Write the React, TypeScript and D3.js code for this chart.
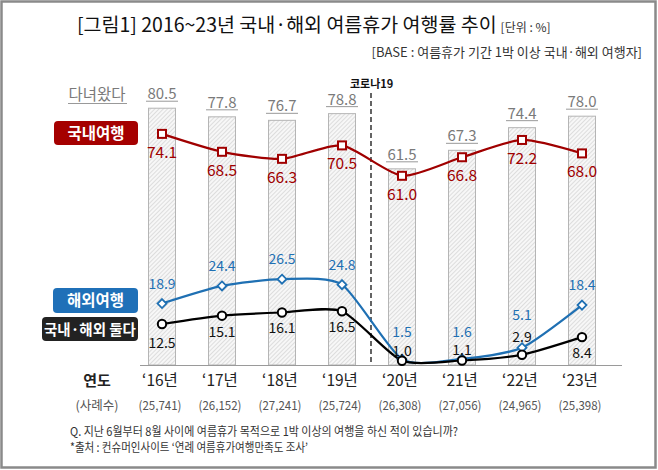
import React from "react";
import * as d3 from "d3";

const years = ["‘16년", "‘17년", "‘18년", "‘19년", "‘20년", "‘21년", "‘22년", "‘23년"];
const samples = ["(25,741)", "(26,152)", "(27,241)", "(25,724)", "(26,308)", "(27,056)", "(24,965)", "(25,398)"];
const total = [80.5, 77.8, 76.7, 78.8, 61.5, 67.3, 74.4, 78.0];
const domestic = [74.1, 68.5, 66.3, 70.5, 61.0, 66.8, 72.2, 68.0];
const overseas = [18.9, 24.4, 26.5, 24.8, 1.5, 1.6, 5.1, 18.4];
const both = [12.5, 15.1, 16.1, 16.5, 1.0, 1.1, 2.9, 8.4];
const bothLabelSide = ["below", "below", "below", "below", "above", "above", "above", "below"];

const W = 658;
const H = 470;
const FONT = "'Noto Sans CJK KR', 'Noto Sans', sans-serif";
const RED = "#a00000";
const BLUE = "#1f70b3";
const GRAY = "#7a7a7a";

export default function App() {
  const x = d3.scalePoint<string>().domain(years).range([162, 582]);
  const yBar = d3.scaleLinear().domain([0, 100]).range([365, 46]);
  const yDom = d3.scaleLinear().domain([0, 100]).range([371, 51]);
  const yLow = d3.scaleLinear().domain([0, 100]).range([364, 44]);
  const barW = 27;

  const mkLine = (ys: d3.ScaleLinear<number, number>) =>
    d3
      .line<number>()
      .x((_, i) => x(years[i]) as number)
      .y((d) => ys(d))
      .curve(d3.curveCardinal.tension(0.35));

  const domPath = mkLine(yDom)(domestic) || "";
  const ovPath = mkLine(yLow)(overseas) || "";
  const bothPath = mkLine(yLow)(both) || "";

  return (
    <svg width={W} height={H} style={{ display: "block", position: "absolute", left: 0, top: 0 }} fontFamily={FONT}>
      <defs>
        <pattern id="hatch" patternUnits="userSpaceOnUse" width="3" height="3" patternTransform="rotate(45)">
          <rect width="3" height="3" fill="#f7f7f7" />
          <line x1="0" y1="0" x2="0" y2="3" stroke="#c4c4c4" strokeWidth="1" />
        </pattern>
      </defs>
      <rect x={0} y={0} width={W} height={H} fill="#fff" />
      <rect x={1.5} y={1.5} width={W - 4} height={H - 4} fill="none" stroke="#8a8a8a" strokeWidth={2.5} />

      {/* Title */}
      <text x={77} y={32} fontSize={19.5} fill="#111">
        [그림1] 2016~23년 국내·해외 여름휴가 여행률 추이
        <tspan fontSize={12} fill="#333" dx={4}>[단위 : %]</tspan>
      </text>
      <text x={642} y={57} fontSize={13} fill="#333" textAnchor="end">
        [BASE : 여름휴가 기간 1박 이상 국내·해외 여행자]
      </text>

      {/* Bars */}
      {total.map((v, i) => {
        const cx = x(years[i]) as number;
        const top = yBar(v);
        return (
          <g key={"b" + i}>
            <rect x={cx - barW / 2} y={top} width={barW} height={yBar(0) - top} fill="url(#hatch)" stroke="#b5b5b5" strokeWidth={1} />
            <text x={cx} y={top - 9} fontSize={15} fill={GRAY} textAnchor="middle">
              {v.toFixed(1)}
            </text>
            <line x1={cx - 16} x2={cx + 16} y1={top - 7} y2={top - 7} stroke="#999" strokeWidth={1} />
          </g>
        );
      })}

      {/* axis */}
      <line x1={140} x2={622} y1={365.5} y2={365.5} stroke="#9a9a9a" strokeWidth={1.2} />

      {/* Corona dashed line */}
      <line x1={371} x2={371} y1={93} y2={365} stroke="#111" strokeWidth={1.3} strokeDasharray="5,3" />
      <text x={350} y={88} fontSize={11} fontWeight="bold" fill="#111">코로나19</text>

      {/* Lines */}
      <path d={domPath} fill="none" stroke={RED} strokeWidth={2.2} />
      <path d={ovPath} fill="none" stroke={BLUE} strokeWidth={2.2} />
      <path d={bothPath} fill="none" stroke="#000" strokeWidth={2.2} />

      {/* Markers & labels: domestic */}
      {domestic.map((v, i) => {
        const cx = x(years[i]) as number;
        const cy = yDom(v);
        return (
          <g key={"d" + i}>
            <rect x={cx - 4} y={cy - 4} width={8} height={8} fill="#fff" stroke={RED} strokeWidth={2} />
            <text x={cx} y={cy + 24} fontSize={15.5} fill={RED} textAnchor="middle">
              {v.toFixed(1)}
            </text>
          </g>
        );
      })}

      {/* overseas */}
      {overseas.map((v, i) => {
        const cx = x(years[i]) as number;
        const cy = yLow(v);
        const off = i === 4 || i === 5 ? 22 : i === 6 ? 28 : 15;
        return (
          <g key={"o" + i}>
            <path d={`M${cx},${cy - 4.5}L${cx + 4.5},${cy}L${cx},${cy + 4.5}L${cx - 4.5},${cy}Z`} fill="#fff" stroke={BLUE} strokeWidth={1.8} />
            <text x={cx} y={cy - off} fontSize={14} fill={BLUE} textAnchor="middle">
              {v.toFixed(1)}
            </text>
          </g>
        );
      })}

      {/* both */}
      {both.map((v, i) => {
        const cx = x(years[i]) as number;
        const cy = yLow(v);
        const above = bothLabelSide[i] === "above";
        const ty = above ? (i === 6 ? cy - 13 : cy - 5) : cy + (i === 0 ? 24 : 21);
        return (
          <g key={"t" + i}>
            <circle cx={cx} cy={cy} r={4.2} fill="#fff" stroke="#000" strokeWidth={2} />
            <text x={cx} y={ty} fontSize={14} fill="#111" textAnchor="middle">
              {v.toFixed(1)}
            </text>
          </g>
        );
      })}

      {/* Legend boxes */}
      <text x={97} y={100} fontSize={15.5} fill={GRAY} textAnchor="middle">다녀왔다</text>
      <line x1={68} x2={127} y1={103.5} y2={103.5} stroke="#999" strokeWidth={1} />

      <rect x={54} y={121} width={84} height={24} rx={4} fill="#a50000" />
      <text x={96} y={138.5} fontSize={15.5} fontWeight="bold" fill="#fff" textAnchor="middle">국내여행</text>

      <rect x={53} y={288} width={85} height={25} rx={4} fill="#1f70b8" />
      <text x={95.5} y={306} fontSize={15.5} fontWeight="bold" fill="#fff" textAnchor="middle">해외여행</text>

      <rect x={42} y={317} width={96} height={24} rx={4} fill="#222" />
      <text x={90} y={334.5} fontSize={14.5} fontWeight="bold" fill="#fff" textAnchor="middle">국내·해외 둘다</text>

      {/* X labels */}
      <text x={97} y={386} fontSize={15} fontWeight="bold" fill="#222" textAnchor="middle">연도</text>
      <text x={97} y={410} fontSize={12.5} fill="#555" textAnchor="middle">(사례수)</text>
      {years.map((yr, i) => {
        const cx = x(yr) as number;
        return (
          <g key={"x" + i}>
            <text x={cx - 2} y={386} fontSize={15.5} fill="#222" textAnchor="middle">{yr}</text>
            <text x={cx - 2} y={410} fontSize={12.5} fill="#555" textAnchor="middle" textLength={43} lengthAdjust="spacingAndGlyphs">{samples[i]}</text>
          </g>
        );
      })}

      {/* Footnotes */}
      <text x={70} y={436} fontSize={12} fill="#333" textLength={388} lengthAdjust="spacingAndGlyphs">
        Q. 지난 6월부터 8월 사이에 여름휴가 목적으로 1박 이상의 여행을 하신 적이 있습니까?
      </text>
      <text x={70} y={452} fontSize={12} fill="#333" textLength={238} lengthAdjust="spacingAndGlyphs">
        *출처 : 컨슈머인사이트 ‘연례 여름휴가여행만족도 조사’
      </text>
    </svg>
  );
}
